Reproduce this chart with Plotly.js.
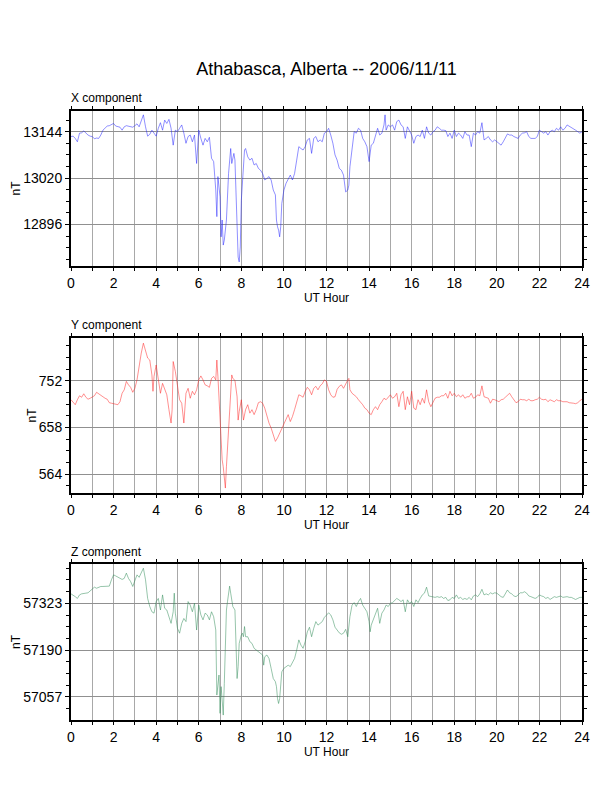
<!DOCTYPE html>
<html>
<head>
<meta charset="utf-8">
<script src="https://cdn.plot.ly/plotly-3.0.1.min.js"></script>
<style>html,body{margin:0;padding:0;background:#fff;}#chart{width:612px;height:792px;}</style>
</head>
<body>
<div id="chart"></div>
<script>
// ---- Data (UT hour, nT) ----
const tX = [
0.0,0.1,0.2,0.3,0.4,0.5,0.6,0.7,0.8,0.9,
1.0,1.1,1.2,1.3,1.4,1.5,1.6,1.7,1.8,1.9,
2.0,2.1,2.2,2.3,2.4,2.5,2.6,2.7,2.8,2.9,
3.0,3.1,3.2,3.3,3.4,3.5,3.6,3.7,3.8,3.9,
4.0,4.1,4.2,4.3,4.4,4.5,4.6,4.7,4.8,4.9,
5.0,5.1,5.2,5.3,5.4,5.5,5.6,5.7,5.8,5.9,
6.0,6.1,6.2,6.3,6.4,6.5,6.6,6.7,6.8,6.85,6.9,
7.0,7.05,7.1,7.15,7.2,7.3,7.4,7.5,7.55,7.6,7.65,7.7,7.8,7.85,7.9,7.95,
8.0,8.05,8.1,8.15,8.2,8.3,8.4,8.5,8.6,8.7,8.8,8.9,
9.0,9.1,9.2,9.3,9.4,9.5,9.6,9.65,9.7,9.75,9.8,9.85,9.9,
10.0,10.1,10.2,10.3,10.4,10.5,10.6,10.7,10.8,10.9,
11.0,11.1,11.2,11.3,11.4,11.5,11.6,11.7,11.8,11.9,
12.0,12.1,12.2,12.3,12.4,12.5,12.6,12.7,12.8,12.9,
13.0,13.05,13.1,13.2,13.3,13.4,13.5,13.6,13.7,13.8,13.9,
14.0,14.05,14.1,14.2,14.3,14.4,14.5,14.6,14.7,14.75,14.8,14.9,
15.0,15.1,15.2,15.3,15.4,15.5,15.6,15.7,15.8,15.9,
16.0,16.1,16.2,16.3,16.4,16.5,16.6,16.7,16.8,16.9,
17.0,17.1,17.2,17.3,17.4,17.5,17.6,17.7,17.8,17.9,
18.0,18.1,18.2,18.3,18.4,18.5,18.6,18.7,18.8,18.9,
19.0,19.1,19.2,19.3,19.4,19.5,19.6,19.7,19.8,19.9,
20.0,20.1,20.2,20.3,20.4,20.5,20.6,20.7,20.8,20.9,
21.0,21.1,21.2,21.3,21.4,21.5,21.6,21.7,21.8,21.9,
22.0,22.1,22.2,22.3,22.4,22.5,22.6,22.7,22.8,22.9,
23.0,23.1,23.2,23.3,23.4,23.5,23.6,23.7,23.8,23.9,
24.0];
const bX = [
13131,13132,13126,13117,13140,13141,13146,13140,13135,13132,
13131,13125,13127,13126,13135,13148,13155,13159,13160,13162,
13166,13159,13157,13156,13148,13157,13160,13159,13157,13156,
13160,13165,13157,13173,13189,13157,13132,13137,13148,13140,
13132,13153,13168,13148,13175,13166,13177,13153,13108,13148,
13144,13153,13162,13140,13113,13131,13135,13117,13135,13059,
13148,13126,13108,13126,13117,13129,13073,13064,12988,12917,13024,
12970,12863,12908,12841,12854,12908,13032,13099,13059,13073,13086,13068,12872,12809,12796,12836,
12961,13019,13059,13095,13099,13077,13068,13073,13055,13059,13046,13041,
13032,13015,13019,13024,13015,12988,12975,12908,12890,12881,12863,12890,12952,
12988,13006,13019,13028,13015,13032,13068,13104,13099,13095,
13104,13122,13126,13086,13126,13131,13117,13122,13117,13140,
13144,13153,13135,13113,13082,13068,13046,13041,13028,12983,
12988,13001,13050,13104,13144,13140,13153,13148,13126,13117,13104,
13064,13082,13108,13113,13131,13153,13135,13140,13162,13189,13148,13162,
13157,13162,13148,13171,13175,13162,13157,13126,13157,13144,
13135,13113,13131,13135,13131,13148,13126,13157,13140,13135,
13144,13148,13157,13153,13148,13148,13147,13131,13140,13126,
13148,13131,13140,13135,13126,13144,13135,13135,13104,13140,
13135,13144,13140,13168,13122,13126,13131,13122,13117,13122,
13117,13113,13108,13117,13126,13138,13135,13135,13131,13129,
13126,13135,13140,13141,13144,13131,13126,13126,13126,13131,
13148,13144,13140,13144,13135,13144,13148,13144,13153,13148,
13157,13148,13153,13162,13159,13156,13153,13148,13144,13140,
13144];

const tY = [
0.0,0.1,0.2,0.3,0.4,0.5,0.6,0.7,0.8,0.9,
1.0,1.1,1.2,1.3,1.4,1.5,1.6,1.7,1.8,1.9,
2.0,2.1,2.2,2.3,2.4,2.5,2.6,2.7,2.8,2.9,
3.0,3.1,3.2,3.3,3.4,3.5,3.6,3.7,3.8,3.85,3.9,
4.0,4.1,4.2,4.3,4.4,4.5,4.6,4.7,4.75,4.8,4.9,
5.0,5.1,5.2,5.3,5.4,5.5,5.6,5.7,5.8,5.9,
6.0,6.1,6.2,6.3,6.4,6.5,6.6,6.7,6.8,6.85,6.9,
7.0,7.05,7.1,7.15,7.2,7.25,7.3,7.4,7.5,7.55,7.6,7.7,7.8,7.85,7.9,
8.0,8.1,8.2,8.3,8.4,8.5,8.6,8.7,8.8,8.9,
9.0,9.1,9.2,9.3,9.4,9.5,9.6,9.7,9.8,9.9,
10.0,10.1,10.2,10.3,10.4,10.5,10.6,10.7,10.8,10.9,
11.0,11.1,11.2,11.3,11.4,11.5,11.6,11.7,11.8,11.9,
12.0,12.1,12.2,12.3,12.4,12.5,12.6,12.7,12.8,12.9,
13.0,13.05,13.1,13.2,13.3,13.4,13.5,13.6,13.7,13.8,13.9,
14.0,14.1,14.2,14.3,14.4,14.5,14.6,14.7,14.8,14.9,
15.0,15.1,15.2,15.3,15.4,15.5,15.6,15.7,15.8,15.9,
16.0,16.1,16.2,16.3,16.4,16.5,16.6,16.7,16.8,16.9,
17.0,17.1,17.2,17.3,17.4,17.5,17.6,17.7,17.8,17.9,
18.0,18.1,18.2,18.3,18.4,18.5,18.6,18.7,18.8,18.9,
19.0,19.1,19.2,19.3,19.4,19.5,19.6,19.7,19.8,19.9,
20.0,20.1,20.2,20.3,20.4,20.5,20.6,20.7,20.8,20.9,
21.0,21.1,21.2,21.3,21.4,21.5,21.6,21.7,21.8,21.9,
22.0,22.1,22.2,22.3,22.4,22.5,22.6,22.7,22.8,22.9,
23.0,23.1,23.2,23.3,23.4,23.5,23.6,23.7,23.8,23.9,
24.0];
const bY = [
714,710,704,714,722,719,726,719,715,717,
720,722,729,726,722,719,717,715,708,707,
706,706,704,710,727,734,751,744,739,729,
737,754,784,808,828,811,798,794,764,731,761,
784,754,727,747,737,724,694,667,694,791,771,
741,714,707,667,727,737,717,731,724,734,
754,762,754,744,742,739,757,761,754,794,761,
667,626,593,579,553,536,579,647,734,764,757,753,720,673,690,
714,673,694,704,687,694,684,694,708,710,
707,697,680,667,657,643,630,637,647,657,
667,677,684,670,680,694,710,724,722,719,
731,739,734,724,737,741,734,742,746,754,
751,734,724,719,720,735,741,744,737,747,
754,757,734,727,724,720,714,710,704,697,694,
687,684,694,700,694,704,710,717,714,720,
724,717,720,727,700,724,731,694,720,704,
731,697,694,714,704,717,707,734,710,700,
710,717,719,719,722,722,727,717,731,722,
727,720,724,719,724,717,720,720,727,717,
719,724,722,742,720,719,717,707,715,714,
712,710,714,715,719,724,727,720,715,708,
710,715,714,714,712,715,712,712,714,715,
719,715,714,715,710,714,712,710,714,712,
712,710,710,710,708,708,707,706,708,712,
715];

const tZ = [
0.0,0.1,0.2,0.3,0.4,0.5,0.6,0.7,0.8,0.9,
1.0,1.1,1.2,1.3,1.4,1.5,1.6,1.7,1.8,1.9,
2.0,2.1,2.2,2.3,2.4,2.5,2.6,2.7,2.8,2.9,
3.0,3.1,3.2,3.3,3.4,3.5,3.6,3.7,3.8,3.9,
4.0,4.1,4.2,4.3,4.4,4.5,4.6,4.7,4.8,4.85,4.9,
5.0,5.1,5.2,5.3,5.4,5.5,5.6,5.7,5.8,5.9,
6.0,6.1,6.2,6.3,6.4,6.5,6.6,6.7,6.8,6.85,6.9,6.95,
7.0,7.05,7.1,7.15,7.2,7.3,7.35,7.4,7.45,7.5,7.6,7.7,7.75,7.8,7.85,7.9,
8.0,8.05,8.1,8.15,8.2,8.3,8.4,8.5,8.6,8.7,8.8,8.9,
9.0,9.05,9.1,9.2,9.3,9.4,9.5,9.6,9.65,9.7,9.75,9.8,9.85,9.9,
10.0,10.1,10.2,10.3,10.4,10.5,10.6,10.7,10.8,10.9,
11.0,11.1,11.2,11.3,11.4,11.5,11.6,11.7,11.8,11.9,
12.0,12.1,12.2,12.3,12.4,12.5,12.6,12.7,12.8,12.9,
13.0,13.1,13.2,13.3,13.4,13.5,13.6,13.7,13.8,13.9,
14.0,14.05,14.1,14.2,14.3,14.4,14.5,14.6,14.7,14.8,14.9,
15.0,15.1,15.2,15.3,15.4,15.5,15.6,15.7,15.8,15.9,
16.0,16.1,16.2,16.3,16.4,16.5,16.6,16.7,16.8,16.9,
17.0,17.1,17.2,17.3,17.4,17.5,17.6,17.7,17.8,17.9,
18.0,18.1,18.2,18.3,18.4,18.5,18.6,18.7,18.8,18.9,
19.0,19.1,19.2,19.3,19.4,19.5,19.6,19.7,19.8,19.9,
20.0,20.1,20.2,20.3,20.4,20.5,20.6,20.7,20.8,20.9,
21.0,21.1,21.2,21.3,21.4,21.5,21.6,21.7,21.8,21.9,
22.0,22.1,22.2,22.3,22.4,22.5,22.6,22.7,22.8,22.9,
23.0,23.1,23.2,23.3,23.4,23.5,23.6,23.7,23.8,23.9,
24.0];
const bZ = [
57350,57347,57342,57337,57347,57350,57350,57352,57353,57359,
57366,57369,57366,57369,57371,57371,57372,57371,57372,57390,
57404,57401,57397,57394,57391,57394,57409,57394,57385,57371,
57391,57404,57397,57409,57423,57390,57337,57314,57299,57295,
57328,57337,57304,57347,57309,57304,57285,57266,57299,57352,57295,
57252,57238,57266,57280,57271,57328,57318,57299,57323,57247,
57318,57290,57276,57295,57290,57276,57299,57285,57247,57062,57095,57119,
57010,57086,57048,57005,57095,57304,57328,57352,57372,57352,57314,57304,57190,57109,57143,57209,
57233,57238,57228,57257,57228,57228,57214,57209,57195,57190,57185,57181,
57176,57147,57171,57176,57166,57138,57109,57100,57086,57052,57038,57052,57095,57128,
57138,57143,57147,57143,57157,57166,57190,57219,57204,57195,
57214,57242,57255,57228,57252,57271,57261,57266,57271,57283,
57290,57296,57290,57276,57255,57245,57239,57235,57238,57249,
57228,57285,57318,57325,57314,57328,57337,57318,57309,57299,
57271,57242,57261,57276,57290,57309,57266,57295,57304,57318,57314,
57323,57325,57331,57337,57333,57328,57333,57299,57333,57323,
57328,57314,57333,57325,57337,57347,57352,57369,57344,57342,
57340,57340,57342,57340,57342,57337,57340,57331,57333,57340,
57337,57347,57337,57340,57334,57337,57334,57340,57333,57344,
57347,57342,57350,57363,57347,57350,57347,57353,57350,57353,
57352,57347,57342,57340,57352,57361,57353,57350,57344,57342,
57347,57353,57353,57356,57352,57344,57342,57340,57337,57340,
57347,57344,57342,57337,57340,57334,57337,57342,57340,57342,
57344,57340,57342,57342,57340,57340,57337,57334,57337,57340,
57340];

const hourTicks = [0,2,4,6,8,10,12,14,16,18,20,22,24];
const panelNames = ['X component','Y component','Z component'];
const yTick0 = [13144, 752, 57323];
const yStep = [124, 94, 133];
const yRanges = [[12785,13200],[526,839],[56991,57435]];
const chartTitle = 'Athabasca, Alberta -- 2006/11/11';

// ---- Layout ----
const FONT = 'Liberation Sans, Arial, Helvetica, sans-serif';
const domains = [[0.6641,0.8602],[0.3775,0.5736],[0.0909,0.2879]];
const labelY = [0.8763,0.5896,0.3025];
const colors = ['#2020ff','#ff2020','#2e8b57'];
const series = [[tX,bX],[tY,bY],[tZ,bZ]];

const traces = series.map((s,i)=>({
  x:s[0], y:s[1], type:'scatter', mode:'lines',
  line:{color:colors[i], width:0.5},
  xaxis: i===0?'x':'x'+(i+1), yaxis: i===0?'y':'y'+(i+1),
  hoverinfo:'skip', showlegend:false
}));

const layout = {
  width:612, height:792,
  margin:{l:71, r:30, t:0, b:0},
  paper_bgcolor:'#fff', plot_bgcolor:'#fff',
  font:{family:FONT, color:'#000'},
  showlegend:false,
  title:{text:chartTitle, font:{family:FONT, size:18, color:'#000'},
         x:0.5, xref:'paper', xanchor:'center', y:1-69/792, yref:'container', yanchor:'middle'},
  annotations:[]
};

for (let i=0;i<3;i++){
  const sx = i===0?'':String(i+1);
  layout['xaxis'+sx] = {
    domain:[0,1], anchor:'y'+sx, range:[0,24],
    tickmode:'array', tickvals:hourTicks, ticktext:hourTicks.map(String),
    ticks:'outside', ticklen:3, tickwidth:1, tickcolor:'#000',
    tickfont:{family:FONT, size:14, color:'#000'},
    showgrid:true, gridcolor:'#a8a8a8', gridwidth:1,
    minor:{dtick:1, tick0:0, ticks:'outside', ticklen:3, tickcolor:'#000', showgrid:true, gridcolor:'#a8a8a8', gridwidth:1},
    showline:true, linewidth:2, linecolor:'#000', mirror:'allticks',
    zeroline:false, fixedrange:true,
    title:{text:'UT Hour', font:{family:FONT, size:12, color:'#000'}, standoff:3}
  };
  layout['yaxis'+sx] = {
    domain:domains[i], anchor:'x'+sx, range:yRanges[i],
    tickmode:'linear', tick0:yTick0[i], dtick:yStep[i],
    exponentformat:'none', separatethousands:false, tickformat:'d',
    ticks:'outside', ticklen:4, tickwidth:1, tickcolor:'#000',
    tickfont:{family:FONT, size:14, color:'#000'},
    showgrid:true, gridcolor:'#909090', gridwidth:1,
    minor:{dtick:yStep[i]/4, tick0:yTick0[i], ticks:'outside', ticklen:3, tickcolor:'#000', showgrid:false},
    showline:true, linewidth:2, linecolor:'#000', mirror:'allticks',
    zeroline:false, fixedrange:true,
    title:{text:'nT', font:{family:FONT, size:12, color:'#000'}, standoff:0}
  };
  layout.annotations.push({
    text:panelNames[i], xref:'paper', yref:'paper', x:0, y:labelY[i],
    xanchor:'left', yanchor:'middle', showarrow:false, borderpad:0, xshift:-1,
    font:{family:FONT, size:12, color:'#000'}
  });
}

Plotly.newPlot('chart', traces, layout, {staticPlot:true, displayModeBar:false});
</script>
</body>
</html>
